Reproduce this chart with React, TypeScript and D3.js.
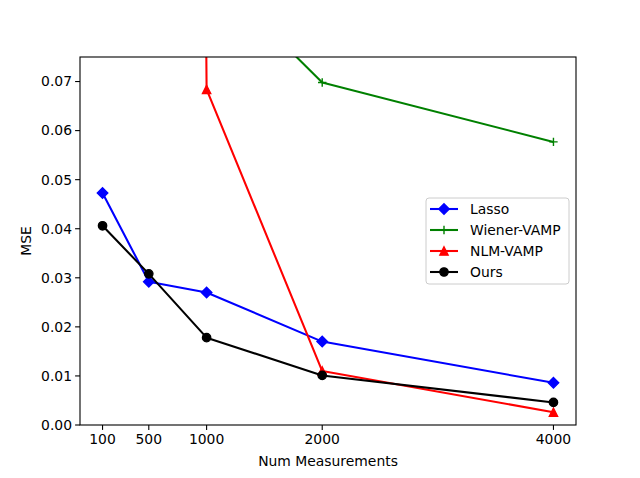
import React from "react";
import * as d3 from "d3";

const measurements = [100, 500, 1000, 2000, 4000];
const lasso = [0.0473, 0.0292, 0.027, 0.017, 0.0086];
const wiener = [0.2, 0.12, 0.0932, 0.0698, 0.0577];
const nlm = [5, 1.5, 0.0684, 0.011, 0.0026];
const ours = [0.0406, 0.0308, 0.0178, 0.0101, 0.0046];
const xTicks = [100, 500, 1000, 2000, 4000];
const yTicks = [0, 0.01, 0.02, 0.03, 0.04, 0.05, 0.06, 0.07];

const W = 640, H = 478;
const L = 80, R = 576, T = 57, B = 425;
const FONT = "DejaVu Sans, sans-serif";

type Series = { name: string; values: number[]; color: string; marker: string };
const series: Series[] = [
  { name: "Lasso", values: lasso, color: "#0000ff", marker: "D" },
  { name: "Wiener-VAMP", values: wiener, color: "#008000", marker: "+" },
  { name: "NLM-VAMP", values: nlm, color: "#ff0000", marker: "^" },
  { name: "Ours", values: ours, color: "#000000", marker: "o" },
];

function Marker({ type, x, y, color }: { type: string; x: number; y: number; color: string }) {
  if (type === "o") return <circle cx={x} cy={y} r={4.2} fill={color} stroke={color} strokeWidth={1.3} />;
  if (type === "D") {
    const s = 5.3;
    return <path d={`M${x},${y - s}L${x + s},${y}L${x},${y + s}L${x - s},${y}Z`} fill={color} stroke={color} strokeWidth={1.3} strokeLinejoin="miter" />;
  }
  if (type === "^") {
    const s = 4.2;
    return <path d={`M${x},${y - s}L${x + s},${y + s}L${x - s},${y + s}Z`} fill={color} stroke={color} strokeWidth={1.3} />;
  }
  const s = 4.2;
  return <path d={`M${x - s},${y}H${x + s}M${x},${y - s}V${y + s}`} stroke={color} strokeWidth={1.4} />;
}

export default function App() {
  const x = d3.scaleLinear().domain([-95, 4195]).range([L, R]);
  const y = d3.scaleLinear().domain([0, 0.075]).range([B, T]);
  const line = d3.line<number>().x((_, i) => x(measurements[i])).y((d) => y(d));

  const legX = 426, legY = 198, legW = 143, legH = 86;
  return (
    <svg width={W} height={H} style={{ position: "absolute", left: 0, top: 0, background: "#fff" }} fontFamily={FONT}>
      <defs>
        <clipPath id="clip">
          <rect x={L} y={T} width={R - L} height={B - T} />
        </clipPath>
      </defs>
      <g clipPath="url(#clip)">
        {series.map((s) => (
          <g key={s.name}>
            <path d={line(s.values) || ""} fill="none" stroke={s.color} strokeWidth={2.08} strokeLinejoin="round" />
            {s.values.map((v, i) => (
              <Marker key={i} type={s.marker} x={x(measurements[i])} y={y(v)} color={s.color} />
            ))}
          </g>
        ))}
      </g>
      <rect x={L} y={T} width={R - L} height={B - T} fill="none" stroke="#000" strokeWidth={1.1} />
      {xTicks.map((t) => (
        <g key={t}>
          <line x1={x(t)} x2={x(t)} y1={B} y2={B + 4.9} stroke="#000" strokeWidth={1.1} />
          <text x={x(t)} y={B + 19} textAnchor="middle" fontSize={13.9}>{t}</text>
        </g>
      ))}
      {yTicks.map((t) => (
        <g key={t}>
          <line x1={L} x2={L - 4.9} y1={y(t)} y2={y(t)} stroke="#000" strokeWidth={1.1} />
          <text x={L - 8} y={y(t)} dy="0.35em" textAnchor="end" fontSize={13.9}>{t.toFixed(2)}</text>
        </g>
      ))}
      <text x={(L + R) / 2} y={466} textAnchor="middle" fontSize={13.9}>Num Measurements</text>
      <text transform={`translate(${31},${(T + B) / 2}) rotate(-90)`} textAnchor="middle" fontSize={13.9}>MSE</text>
      <rect x={legX} y={legY} width={legW} height={legH} rx={3} fill="#fff" fillOpacity={0.8} stroke="#cccccc" strokeWidth={1} />
      {series.map((s, i) => {
        const cy = legY + 11 + i * 21;
        return (
          <g key={s.name}>
            <line x1={legX + 4} x2={legX + 32} y1={cy} y2={cy} stroke={s.color} strokeWidth={2.08} />
            <Marker type={s.marker} x={legX + 18} y={cy} color={s.color} />
            <text x={legX + 44} y={cy} dy="0.35em" fontSize={13.9}>{s.name}</text>
          </g>
        );
      })}
    </svg>
  );
}
